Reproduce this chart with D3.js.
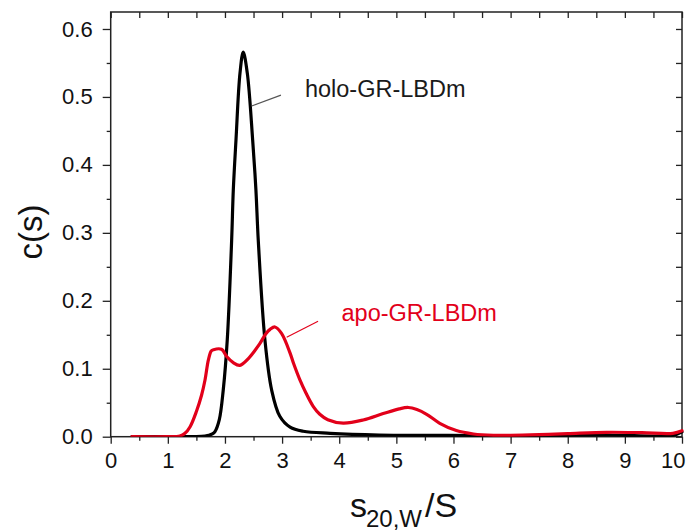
<!DOCTYPE html>
<html>
<head>
<meta charset="utf-8">
<script src="https://cdn.jsdelivr.net/npm/d3@7"></script>
<style>
  html, body { margin: 0; padding: 0; background: #fff; }
  svg { display: block; font-family: Arial, "Liberation Sans", Helvetica, sans-serif; }
</style>
</head>
<body>
<svg id="chart" width="690" height="531"></svg>
<script>
// Sedimentation coefficient distributions c(s)
const holoS = [0.37, 1.0, 1.5, 1.65, 1.72, 1.78, 1.825, 1.9, 1.97, 2.04, 2.117, 2.146, 2.193, 2.263, 2.32, 2.391, 2.485, 2.542, 2.583, 2.70, 2.817, 2.96, 3.14, 3.37, 3.84, 4.7, 5.6, 6.5, 7.5, 8.7, 9.84, 10.0];
const holoC = [0, 0, 0.0003, 0.001, 0.002, 0.004, 0.0074, 0.0246, 0.0687, 0.142, 0.289, 0.363, 0.4366, 0.535, 0.566, 0.535, 0.4366, 0.363, 0.289, 0.142, 0.0687, 0.03, 0.014, 0.008, 0.005, 0.0025, 0.002, 0.0015, 0.0015, 0.0025, 0.002, 0.007];

const apoS = [0.37, 1.0, 1.21, 1.30, 1.39, 1.50, 1.59, 1.65, 1.71, 1.76, 1.80, 1.94, 2.03, 2.145, 2.26, 2.41, 2.61, 2.72, 2.79, 2.875, 2.99, 3.14, 3.20, 3.31, 3.42, 3.55, 3.66, 3.80, 4.07, 4.42, 4.77, 5.05, 5.21, 5.36, 5.53, 5.76, 6.05, 6.35, 6.7, 7.0, 7.5, 8.0, 8.68, 9.3, 9.84, 10.0];
const apoC = [0, 0, 0.001, 0.005, 0.0147, 0.037, 0.061, 0.083, 0.113, 0.126, 0.128, 0.1286, 0.118, 0.109, 0.105, 0.115, 0.137, 0.152, 0.158, 0.1615, 0.152, 0.123, 0.108, 0.084, 0.064, 0.044, 0.033, 0.025, 0.020, 0.0246, 0.034, 0.041, 0.043, 0.040, 0.033, 0.0197, 0.009, 0.004, 0.002, 0.002, 0.003, 0.0045, 0.0065, 0.006, 0.005, 0.0088];

const xTicks = [0, 1, 2, 3, 4, 5, 6, 7, 8, 9, 10];
const yTicks = [0.0, 0.1, 0.2, 0.3, 0.4, 0.5, 0.6];
const xMinor = d3.range(0.5, 10, 1);
const yMinor = [0.05, 0.15, 0.25, 0.35, 0.45, 0.55];

const holoLabel = "holo-GR-LBDm";
const apoLabel = "apo-GR-LBDm";

const plotL = 110.7, plotR = 682, plotT = 12, plotB = 436.7;
const black = "#000", red = "#e2001a", frame = "#222";

const svg = d3.select("#chart");
const x = d3.scaleLinear().domain([0, 10]).range([plotL, plotR]);
const y = d3.scaleLinear().domain([0, 0.625]).range([plotB, plotT]);

svg.append("defs").append("clipPath").attr("id", "plot")
  .append("rect").attr("x", plotL).attr("y", plotT - 5)
  .attr("width", plotR - plotL + 2).attr("height", plotB - plotT + 5);

// Axes: bottom/left with labels, outward ticks; top/right inward ticks
const fmtY = d3.format(".1f");
function styleAxis(g) {
  g.select(".domain").remove();
  g.selectAll(".tick line").attr("stroke", frame).attr("stroke-width", 1.3);
  g.selectAll(".tick text").attr("fill", "#111").style("font-size", "22px")
    .style("font-family", "Arial, 'Liberation Sans', sans-serif");
}

const gx = svg.append("g").attr("transform", `translate(0,${plotB})`)
  .call(d3.axisBottom(x).tickValues(xTicks).tickSize(7).tickPadding(9).tickFormat(d3.format("d")));
styleAxis(gx);
// keep the last label inside the page edge
gx.selectAll(".tick text").filter(d => d === 10).attr("text-anchor", "end").attr("dx", "3");
const gxm = svg.append("g").attr("transform", `translate(0,${plotB})`)
  .call(d3.axisBottom(x).tickValues(xMinor).tickSize(4).tickFormat(""));
styleAxis(gxm);

const gy = svg.append("g").attr("transform", `translate(${plotL},0)`)
  .call(d3.axisLeft(y).tickValues(yTicks).tickSize(8).tickPadding(10).tickFormat(fmtY));
styleAxis(gy);
const gym = svg.append("g").attr("transform", `translate(${plotL},0)`)
  .call(d3.axisLeft(y).tickValues(yMinor).tickSize(4).tickFormat(""));
styleAxis(gym);

const gt = svg.append("g").attr("transform", `translate(0,${plotT})`)
  .call(d3.axisBottom(x).tickValues(xTicks.concat(xMinor)).tickSize(6).tickFormat(""));
styleAxis(gt);
const gr = svg.append("g").attr("transform", `translate(${plotR},0)`)
  .call(d3.axisLeft(y).tickValues(yTicks.concat(yMinor)).tickSize(6).tickFormat(""));
styleAxis(gr);

// Frame
svg.append("rect").attr("x", plotL).attr("y", plotT)
  .attr("width", plotR - plotL).attr("height", plotB - plotT)
  .attr("fill", "none").attr("stroke", frame).attr("stroke-width", 1.5);

// Curves
const line = d3.line().x(d => x(d[0])).y(d => y(d[1])).curve(d3.curveCatmullRom.alpha(0.5));
const holo = holoS.map((s, i) => [s, holoC[i]]);
const apo = apoS.map((s, i) => [s, apoC[i]]);

const plot = svg.append("g").attr("clip-path", "url(#plot)");
plot.append("path").datum(holo).attr("d", line)
  .attr("fill", "none").attr("stroke", black).attr("stroke-width", 3.2)
  .attr("stroke-linejoin", "round").attr("stroke-linecap", "round");
plot.append("path").datum(apo).attr("d", line)
  .attr("fill", "none").attr("stroke", red).attr("stroke-width", 3.2)
  .attr("stroke-linejoin", "round").attr("stroke-linecap", "round");

// Annotations with leader lines
svg.append("line")
  .attr("x1", x(2.467)).attr("y1", y(0.4867)).attr("x2", x(2.98)).attr("y2", y(0.5027))
  .attr("stroke", "#555").attr("stroke-width", 1.2);
svg.append("text").attr("x", x(3.40)).attr("y", y(0.50))
  .attr("fill", "#1a1a1a").style("font-size", "23.5px").text(holoLabel);

svg.append("line")
  .attr("x1", x(3.08)).attr("y1", y(0.1463)).attr("x2", x(3.63)).attr("y2", y(0.170))
  .attr("stroke", red).attr("stroke-width", 1.1);
svg.append("text").attr("x", x(4.04)).attr("y", y(0.170))
  .attr("fill", red).style("font-size", "23.5px").text(apoLabel);

// Axis titles
svg.append("text")
  .attr("transform", `translate(42,232) rotate(-90)`)
  .attr("text-anchor", "middle").attr("fill", "#111")
  .style("font-size", "33px").text("c(s)");

const xt = svg.append("text").attr("y", 517).attr("fill", "#111");
xt.append("tspan").attr("x", 350).style("font-size", "34px").text("s");
xt.append("tspan").attr("x", 366).attr("y", 527).style("font-size", "24px").text("20,W");
xt.append("tspan").attr("x", 425).attr("y", 517).style("font-size", "34px").text("/S");
</script>
</body>
</html>
